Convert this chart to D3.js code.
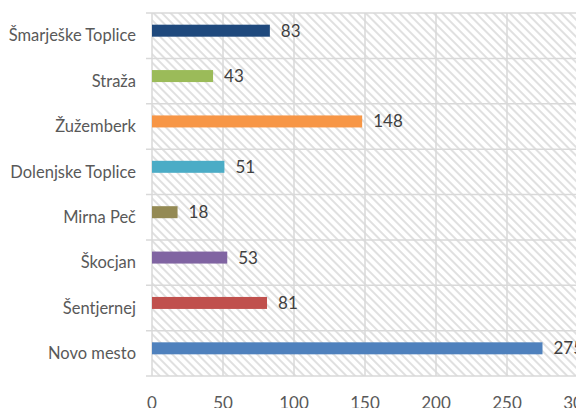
<!DOCTYPE html>
<html lang="en">
  <head>
    <meta charset="UTF-8"/>
    <title>Bar chart</title>
    <script src="https://d3js.org/d3.v7.min.js"></script>
    <style>
      body { margin: 0; background: #fff; }
      text {
        font-family: Lato, 'Noto Sans', sans-serif;
        font-size: 16.5px;
        fill: #595959;
      }
      .value { fill: #404040; font-size: 17px; }
      .grid line { stroke: #d9d9d9; stroke-width: 1.5px; }
    </style>
  </head>
  <body>
    <script type="text/javascript">

        const categories = ["Šmarješke Toplice", "Straža", "Žužemberk", "Dolenjske Toplice",
                            "Mirna Peč", "Škocjan", "Šentjernej", "Novo mesto"]
        const values = [83, 43, 148, 51, 18, 53, 81, 275]
        const colors = ["#1f497d", "#9bbb59", "#f79646", "#4bacc6",
                        "#948a54", "#8064a2", "#c0504d", "#4f81bd"]
        const xTicks = [0, 50, 100, 150, 200, 250, 300]

        const outerWidth = 576,
              outerHeight = 408,
              margin = ({top: 13, left: 152}),
              height = 363

        const svg = d3.select("body").append("svg")
            .attr("width", outerWidth)
            .attr("height", outerHeight)

        // diagonal hatch for the plot background
        const pat = svg.append("defs").append("pattern")
            .attr("id", "hatch")
            .attr("patternUnits", "userSpaceOnUse")
            .attr("width", 6)
            .attr("height", 6)
            .attr("patternTransform", "rotate(-45)")
        pat.append("rect").attr("width", 6).attr("height", 6).attr("fill", "#fff")
        pat.append("rect").attr("width", 2).attr("height", 6).attr("fill", "#e0e0e0")

        const x = d3.scaleLinear().domain([0, 300]).range([0, 426])
        const y = d3.scaleBand().domain(categories).range([0, height])

        const g = svg.append("g")
            .attr("transform", `translate(${margin.left},${margin.top})`)

        g.append("rect")
            .attr("width", outerWidth)
            .attr("height", height)
            .attr("fill", "url(#hatch)")

        const grid = g.append("g").attr("class", "grid")
        grid.selectAll(".v")
            .data(xTicks)
            .join("line")
            .attr("class", "v")
            .attr("x1", d => x(d)).attr("x2", d => x(d))
            .attr("y1", 0).attr("y2", height)
        grid.selectAll(".h")
            .data(categories.concat(["end"]))
            .join("line")
            .attr("class", "h")
            .attr("x1", -6).attr("x2", outerWidth)
            .attr("y1", (d, i) => i * y.bandwidth())
            .attr("y2", (d, i) => i * y.bandwidth())

        const barH = 12
        const barOff = y.bandwidth() / 2 - 5

        g.selectAll(".bar")
            .data(values)
            .join("rect")
            .attr("class", "bar")
            .attr("x", x(0))
            .attr("y", (d, i) => y(categories[i]) + barOff - barH / 2)
            .attr("width", d => x(d) - x(0))
            .attr("height", barH)
            .attr("fill", (d, i) => colors[i])

        g.selectAll(".value")
            .data(values)
            .join("text")
            .attr("class", "value")
            .attr("x", d => x(d) + 11)
            .attr("y", (d, i) => y(categories[i]) + barOff)
            .attr("dy", "0.35em")
            .text(d => d)

        g.selectAll(".cat")
            .data(categories)
            .join("text")
            .attr("class", "cat")
            .attr("text-anchor", "end")
            .attr("x", -16)
            .attr("y", d => y(d) + y.bandwidth() / 2)
            .attr("dy", "0.35em")
            .text(d => d)

        g.selectAll(".tick")
            .data(xTicks)
            .join("text")
            .attr("class", "tick")
            .attr("text-anchor", "middle")
            .attr("x", d => x(d))
            .attr("y", height + 33)
            .style("font-size", "17px")
            .text(d => d)

    </script>
  </body>
</html>
